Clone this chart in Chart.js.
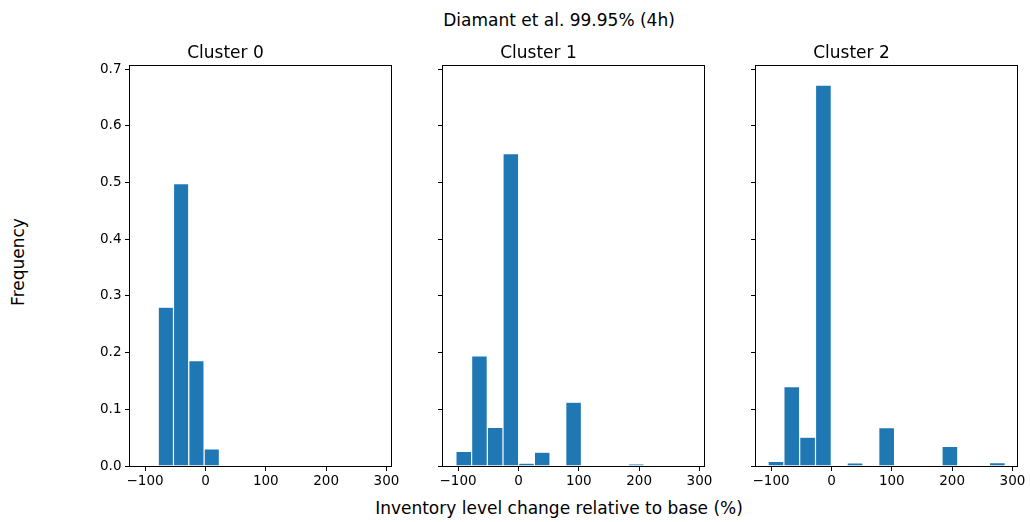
<!DOCTYPE html>
<html>
<head>
<meta charset="utf-8">
<script src="https://cdn.jsdelivr.net/npm/chart.js@4.4.1/dist/chart.umd.min.js"></script>
<style>
  body { margin: 0; background: #fff; }
  #fig { position: relative; width: 1030px; height: 522px; font-family: "DejaVu Sans", sans-serif; color: #000; }
  #fig canvas { position: absolute; top: 30px; }
  .lbl { position: absolute; font-size: 17px; line-height: 1; white-space: nowrap; transform: translate(-50%, -50%); }
</style>
</head>
<body>
<div id="fig">
  <div class="lbl" style="left:559px; top:20px;">Diamant et al. 99.95% (4h)</div>
  <div class="lbl" style="left:18px; top:262px; transform: translate(-50%, -50%) rotate(-90deg);">Frequency</div>
  <div class="lbl" style="left:559px; top:508px;">Inventory level change relative to base (%)</div>
  <canvas id="c0" width="339" height="470" style="left:60px"></canvas>
  <canvas id="c1" width="339" height="470" style="left:373px"></canvas>
  <canvas id="c2" width="339" height="470" style="left:686px"></canvas>
</div>
<script>
// Histogram bins (centres) and frequencies
const titulos = ['Cluster 0', 'Cluster 1', 'Cluster 2'];

const centros0 = [-65.6, -40.3, -14.9, 10.5];
const freq0 = [0.280, 0.498, 0.186, 0.030];

const centros1 = [-90.6, -64.6, -38.6, -12.6, 13.4, 39.4, 65.4, 91.4, 117.4, 143.4, 169.4, 195.4];
const freq1 = [0.0256, 0.194, 0.068, 0.551, 0.005, 0.0244, 0, 0.1126, 0, 0, 0, 0.0035];

const centros2 = [-91.9, -65.7, -39.5, -13.3, 12.9, 39.1, 65.3, 91.5, 117.7, 143.9, 170.1, 196.3, 222.5, 248.7, 274.9];
const freq2 = [0.0083, 0.140, 0.0508, 0.672, 0, 0.0055, 0, 0.0676, 0, 0, 0, 0.0346, 0, 0, 0.006];

const xTicks = [-100, 0, 100, 200, 300];
const yTicks = [0, 0.1, 0.2, 0.3, 0.4, 0.5, 0.6, 0.7];
const xMin = -125, xMax = 307.5;
const yMax = 0.672 * 1.05;

const AZUL = '#1f77b4';

// moldura (spines) em volta da área do gráfico
const moldura = {
  id: 'moldura',
  afterDatasetsDraw(chart) {
    const a = chart.chartArea, ctx = chart.ctx;
    ctx.save();
    ctx.strokeStyle = '#000';
    ctx.lineWidth = 1;
    ctx.strokeRect(a.left - 0.5, a.top - 0.5, a.right - a.left + 1, a.bottom - a.top + 1);
    ctx.restore();
  }
};

function criarGrafico(id, titulo, centros, freq, mostrarY) {
  return new Chart(document.getElementById(id), {
    type: 'bar',
    data: {
      datasets: [{
        data: centros.map((c, i) => ({ x: c, y: freq[i] })),
        backgroundColor: AZUL,
        borderColor: '#fff',
        borderWidth: ctx => (ctx.raw && ctx.raw.y > 0) ? { left: 0.6, right: 0.6, top: 0.6, bottom: 0 } : 0,
        borderSkipped: false,
        inflateAmount: 0,
        barPercentage: 1,
        categoryPercentage: 1
      }]
    },
    plugins: [moldura],
    options: {
      responsive: false,
      animation: false,
      devicePixelRatio: 1,
      layout: { padding: { left: 0, right: 8, top: 0, bottom: 0 } },
      plugins: {
        legend: { display: false },
        tooltip: { enabled: false },
        title: {
          display: true,
          text: titulo,
          color: '#000',
          font: { family: 'DejaVu Sans', size: 17, weight: 'normal', lineHeight: 1.2 },
          padding: { top: 13, bottom: 2.6 }
        }
      },
      scales: {
        x: {
          type: 'linear',
          offset: false,
          min: xMin,
          max: xMax,
          afterFit: s => { s.height = 34; s.paddingLeft = 0; s.paddingRight = 0; },
          afterBuildTicks: s => { s.ticks = xTicks.map(v => ({ value: v })); },
          border: { display: false },
          grid: { display: true, offset: false, drawOnChartArea: false, drawTicks: true, tickLength: 5, tickColor: '#000', tickWidth: 1 },
          ticks: {
            color: '#000',
            padding: 2,
            maxRotation: 0,
            font: { family: 'DejaVu Sans', size: 13.5 },
            callback: v => String(v).replace('-', '\u2212')
          }
        },
        y: {
          min: 0,
          max: yMax,
          afterFit: s => { s.width = 70; s.paddingTop = 0; s.paddingBottom = 0; },
          afterBuildTicks: s => { s.ticks = yTicks.map(v => ({ value: v })); },
          border: { display: false },
          grid: { display: true, drawOnChartArea: false, drawTicks: true, tickLength: 5, tickColor: '#000', tickWidth: 1 },
          ticks: {
            display: mostrarY,
            color: '#000',
            padding: 3.5,
            font: { family: 'DejaVu Sans', size: 13.5 },
            callback: v => v.toFixed(1)
          }
        }
      }
    }
  });
}

criarGrafico('c0', titulos[0], centros0, freq0, true);
criarGrafico('c1', titulos[1], centros1, freq1, false);
criarGrafico('c2', titulos[2], centros2, freq2, false);
</script>
</body>
</html>
